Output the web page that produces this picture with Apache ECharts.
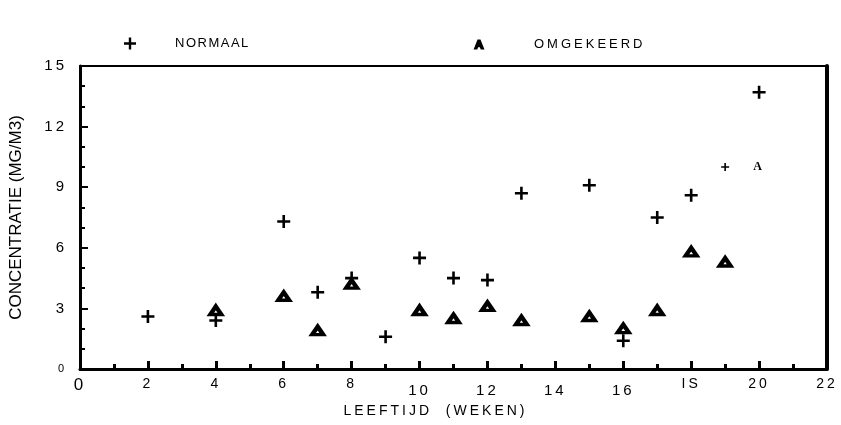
<!DOCTYPE html>
<html><head><meta charset="utf-8">
<script src="https://cdn.jsdelivr.net/npm/echarts@6/dist/echarts.min.js"></script>
<style>html,body{margin:0;padding:0;background:#fff}#c{width:841px;height:425px}</style>
</head><body><div id="c"></div>
<script>
const weeksNormaal = [2,4,6,7,8,9,10,11,12,13,15,16,17,18,19,20];
const normaal      = [2.6,2.4,7.3,3.8,4.5,1.6,5.5,4.5,4.4,8.7,9.1,1.4,7.5,8.6,10.0,13.7];
const weeksOmgekeerd = [4,6,7,8,10,11,12,13,15,16,17,18,19,20];
const omgekeerd      = [2.9,3.6,1.9,4.2,2.9,2.5,3.1,2.4,2.6,2.0,2.9,5.8,5.3,10.0];
const xTickLabels = ['0','2','4','6','8','10','12','14','16','IS','20','22'];
const yTickLabels = ['0','3','6','9','12','15'];
const seriesNames = ['NORMAAL','OMGEKEERD'];
const xAxisTitle = 'LEEFTIJD  (WEKEN)';
const yAxisTitle = 'CONCENTRATIE (MG/M3)';

// typewriter-like letter spacing of the scanned original (visual only)
const SPACING = {};
SPACING[seriesNames[0]] = 1.5; SPACING[seriesNames[1]] = 3;
SPACING[xAxisTitle] = 3;
['10','12','14','16','IS','20','22'].forEach(t => SPACING[t] = 3);
const _fill = CanvasRenderingContext2D.prototype.fillText;
CanvasRenderingContext2D.prototype.fillText = function(t, x, y, m){
  const s = SPACING[t];
  if (s && ('letterSpacing' in this)) {
    const prev = this.letterSpacing; this.letterSpacing = s + 'px';
    const r = m === undefined ? _fill.call(this, t, x, y) : _fill.call(this, t, x, y, m);
    this.letterSpacing = prev; return r;
  }
  return m === undefined ? _fill.call(this, t, x, y) : _fill.call(this, t, x, y, m);
};

const PLUS = 'path://M4,0H6V4H10V6H6V10H4V6H0V4H4Z';
const APATH = 'path://M0,10L4,0H6L10,10H8L7,7.2H3L2,10ZM3.7,5.6H6.3L5,2.2Z';
const FONT = 'Liberation Sans, Arial, sans-serif';

const normData = weeksNormaal.map((w,i)=>{
  const d = {value:[w, normaal[i]]};
  if (w === 19) d.symbolSize = 8;
  return d;
});
const omgData = weeksOmgekeerd.map((w,i)=>{
  const d = {value:[w, omgekeerd[i]]};
  if (w === 20) {
    d.symbol = 'rect'; d.symbolSize = 1;
    d.itemStyle = {color:'rgba(0,0,0,0)', borderWidth:0};
    d.label = {show:true, position:'inside', formatter:'A', color:'#000',
      fontFamily:'Liberation Serif, serif', fontWeight:'bold', fontSize:12};
  }
  return d;
});

const chart = echarts.init(document.getElementById('c'), null, {renderer:'canvas'});
chart.setOption({
  backgroundColor:'#fff',
  animation:false,
  legend:[
    {left:124, top:37, padding:0, itemWidth:12, itemHeight:12, data:[{name:seriesNames[0], icon:PLUS}],
     textStyle:{fontFamily:FONT, fontSize:13, color:'#000', padding:[4,0,0,34]}},
    {left:474, top:38, padding:0, itemWidth:8, itemHeight:9, data:[{name:seriesNames[1], icon:APATH}],
     textStyle:{fontFamily:FONT, fontSize:13, color:'#000', padding:[4,0,0,46]}}
  ],
  grid:{left:80, top:66, right:14, bottom:56, containLabel:false},
  xAxis:[{
    type:'value', min:0, max:22, interval:2,
    name:xAxisTitle, nameLocation:'middle', nameGap:35,
    nameTextStyle:{fontFamily:FONT, fontSize:14, color:'#000', padding:[0,36,0,0]},
    axisLine:{show:true, onZero:false, lineStyle:{color:'#000', width:3}},
    axisTick:{show:true, inside:true, length:8, lineStyle:{color:'#000', width:3}},
    minorTick:{show:true, splitNumber:2, length:5, lineStyle:{color:'#000', width:3}},
    splitLine:{show:false},
    axisLabel:{margin:8, color:'#000', fontFamily:FONT, fontSize:14,
      formatter:function(v){
        const t = xTickLabels[Math.round(v/2)];
        if (v === 0) return '{big|'+t+'}';
        if (v>=10 && v<=16) return '{low|'+t+'}';
        return t;
      },
      rich:{big:{fontSize:17, fontFamily:FONT, color:'#000'}, low:{fontSize:15, fontFamily:FONT, color:'#000', padding:[6,0,0,0]}}
    }
  },{
    type:'value', position:'top', min:0, max:22,
    axisLine:{show:true, onZero:false, lineStyle:{color:'#000', width:2}},
    axisTick:{show:false}, axisLabel:{show:false}, splitLine:{show:false}
  }],
  yAxis:[{
    type:'value', min:0, max:15, interval:3,
    name:yAxisTitle, nameLocation:'middle', nameGap:55,
    nameTextStyle:{fontFamily:FONT, fontSize:17, color:'#000'},
    axisLine:{show:true, onZero:false, lineStyle:{color:'#000', width:3}},
    axisTick:{show:true, inside:true, length:8, lineStyle:{color:'#000', width:2}},
    minorTick:{show:true, splitNumber:3, length:5, lineStyle:{color:'#000', width:2}},
    splitLine:{show:false},
    axisLabel:{margin:13, color:'#000', fontFamily:FONT, fontSize:15,
      formatter:function(v){ const t = yTickLabels[Math.round(v/3)]; return v===0 ? '{s|'+t+'}' : t; },
      rich:{s:{fontSize:11, fontFamily:FONT, color:'#000'}}}
  },{
    type:'value', position:'right', min:0, max:15,
    axisLine:{show:true, onZero:false, lineStyle:{color:'#000', width:4}},
    axisTick:{show:false}, axisLabel:{show:false}, splitLine:{show:false}
  }],
  series:[{
    name:seriesNames[0], type:'scatter', symbol:PLUS, symbolSize:13,
    itemStyle:{color:'#000', opacity:1},
    data:normData
  },{
    name:seriesNames[1], type:'scatter', symbol:'triangle', symbolSize:[11,8],
    itemStyle:{color:'#fff', borderColor:'#000', borderWidth:4, opacity:1},
    data:omgData
  }]
});
</script></body></html>
